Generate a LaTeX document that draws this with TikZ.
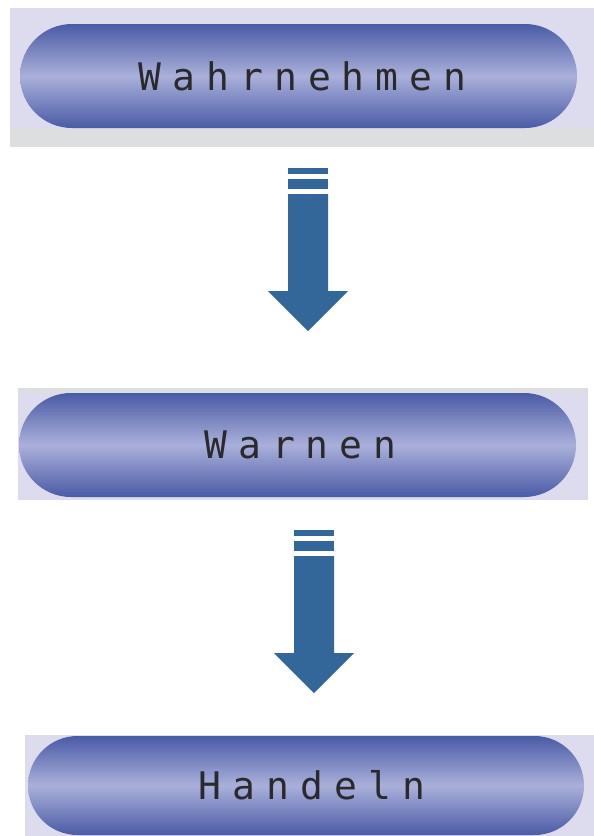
\documentclass[tikz,border=0pt]{standalone}
\usepackage{fontspec}
\newfontfamily\labelfont{DejaVu Sans Mono}[LetterSpace=29]
\usetikzlibrary{shapes.misc}
\definecolor{pilldark}{HTML}{4A5BA6}
\definecolor{pilllight}{HTML}{AAB0DA}
\definecolor{bglav}{HTML}{DCDCEE}
\definecolor{bggray}{HTML}{DCDEE0}
\definecolor{arrowblue}{HTML}{33679A}
\definecolor{txt}{HTML}{2A2A2E}
\tikzset{
  pill/.style={rounded rectangle, draw=none, top color=pilldark, bottom color=pilldark,
    middle color=pilllight, text=txt, font=\labelfont\fontsize{38}{40}\selectfont,
    inner sep=0pt},
  arrowfill/.style={fill=arrowblue, draw=none}
}
\newcommand\blockarrow[2]{%
  \fill[arrowfill] (#1-20,#2) rectangle (#1+20,#2+6);
  \fill[arrowfill] (#1-20,#2+11) rectangle (#1+20,#2+21);
  \fill[arrowfill] (#1-20,#2+26) -- (#1+20,#2+26) -- (#1+20,#2+123) -- (#1+40,#2+123)
     -- (#1,#2+163) -- (#1-40,#2+123) -- (#1-20,#2+123) -- cycle;}
\begin{document}
\begin{tikzpicture}[x=1pt,y=-1pt]
\useasboundingbox (0,0) rectangle (594,836);
\fill[white] (0,0) rectangle (594,836);
% backgrounds
\fill[bglav] (10,8) rectangle (594,128);
\fill[bggray] (10,128) rectangle (594,147);
\fill[bglav] (18,388) rectangle (588,500);
\fill[bggray] (18,388) rectangle (588,393);
\fill[bglav] (25,735) rectangle (594,836);
% pills
\node[pill, minimum width=557pt, minimum height=104pt] (wahr) at (298.5,76) {\hspace{8pt}Wahrnehmen};
\node[pill, minimum width=557pt, minimum height=104pt] (warn) at (297.5,445) {\hspace{6pt}Warnen};
\node[pill, minimum width=556pt, minimum height=99pt] (hand) at (306,785.5) {\hspace{12pt}Handeln};
% arrows
\blockarrow{308}{168}
\blockarrow{314}{530}
\end{tikzpicture}
\end{document}
